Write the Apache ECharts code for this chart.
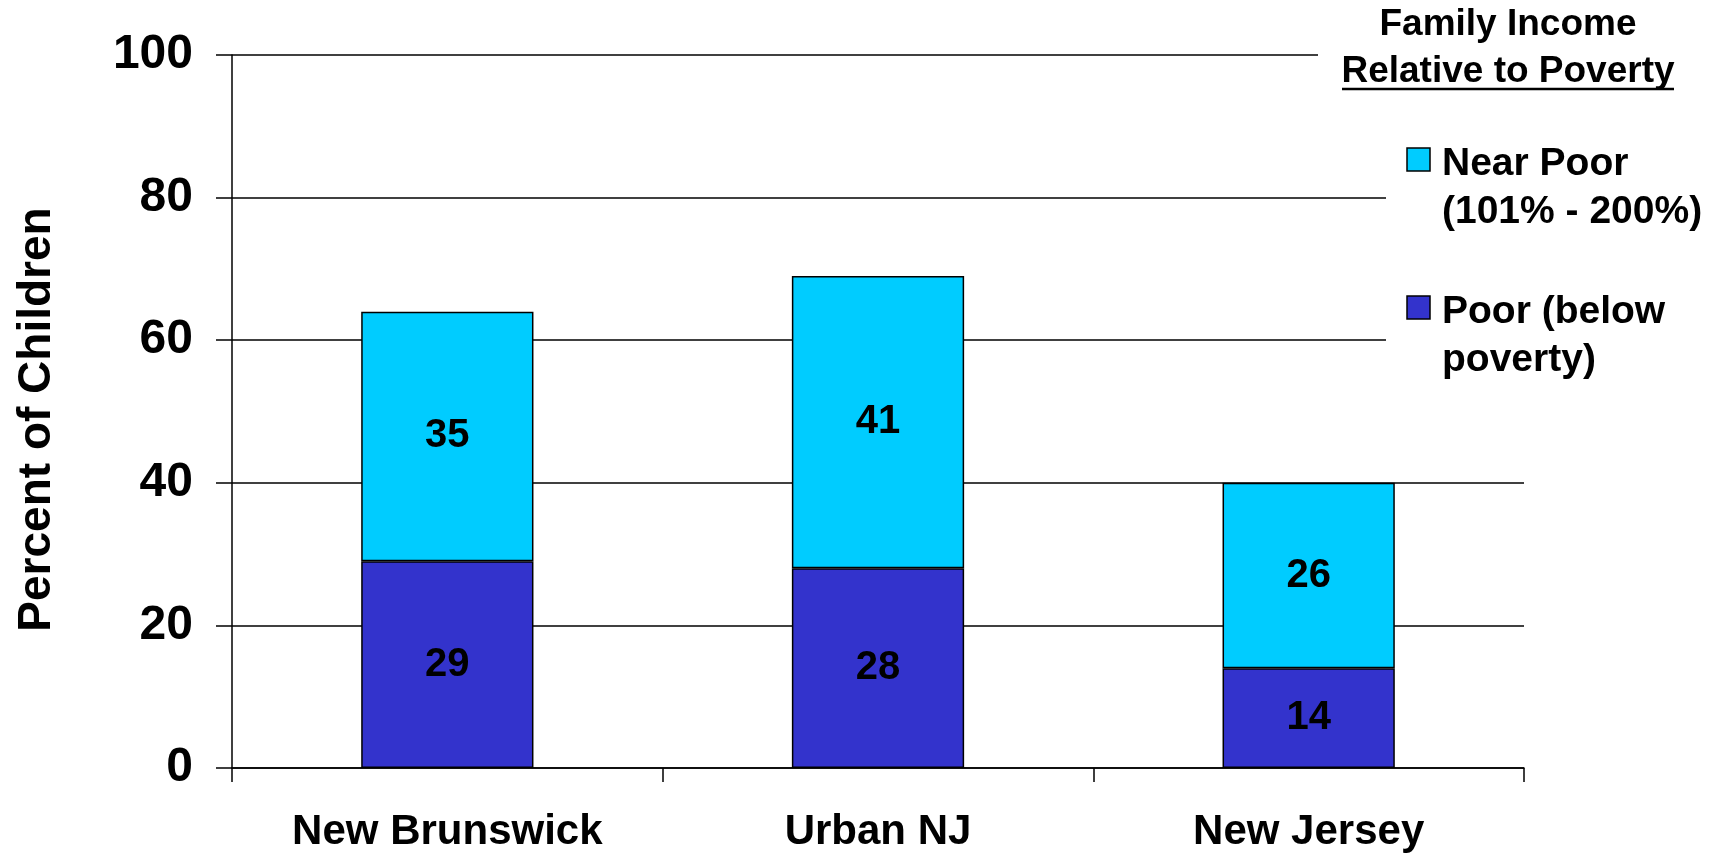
<!DOCTYPE html>
<html>
<head>
<meta charset="utf-8">
<script src="https://cdn.jsdelivr.net/npm/echarts@6/dist/echarts.min.js"></script>
<style>
html,body{margin:0;padding:0;background:#fff;}
#chart{width:1719px;height:856px;}
</style>
</head>
<body>
<div id="chart"></div>
<script>
const categories = ['New Brunswick', 'Urban NJ', 'New Jersey'];
const poorValues = [29, 28, 14];
const nearPoorValues = [35, 41, 26];
const yTicks = [0, 20, 40, 60, 80, 100];
const seriesNames = ['Poor (below\npoverty)', 'Near Poor\n(101% - 200%)'];
const legendTitle = ['Family Income', 'Relative to Poverty'];
const colors = ['#3333CC', '#00CCFF'];

const FONT = '"Liberation Sans", Arial, Helvetica, sans-serif';
const chart = echarts.init(document.getElementById('chart'), null, {renderer: 'canvas'});

const labelStyle = {
  show: true, position: 'inside', color: '#000', fontFamily: FONT,
  fontWeight: 'bold', fontSize: 40
};

// legend drawn in top-to-bottom order: Near Poor, then Poor
const legendOrder = [1, 0];
const legendGraphics = [
  {type: 'rect', left: 1318, top: 0, shape: {width: 401, height: 100}, style: {fill: '#fff'}, z: 10},
  {type: 'rect', left: 1386, top: 100, shape: {width: 333, height: 300}, style: {fill: '#fff'}, z: 10},
  {type: 'text', style: {text: legendTitle[0], x: 1508, y: 25, textAlign: 'center', textVerticalAlign: 'middle',
    font: 'bold 37px ' + FONT, fill: '#000'}, z: 11},
  {type: 'text', style: {text: legendTitle[1], x: 1508, y: 72, textAlign: 'center', textVerticalAlign: 'middle',
    font: 'bold 37px ' + FONT, fill: '#000'}, z: 11},
  {type: 'line', shape: {x1: 1342, y1: 89, x2: 1674, y2: 89}, style: {stroke: '#000', lineWidth: 2.5}, z: 11}
];
legendOrder.forEach((si, k) => {
  const top = 148 + k * 148;
  legendGraphics.push({type: 'rect', shape: {x: 1407, y: top, width: 23, height: 23},
    style: {fill: colors[si], stroke: '#000', lineWidth: 1.5}, z: 11});
  legendGraphics.push({type: 'text', style: {text: seriesNames[si], x: 1442, y: top - 8,
    textAlign: 'left', textVerticalAlign: 'top', font: 'bold 39px ' + FONT, lineHeight: 48, fill: '#000'}, z: 11});
});

const option = {
  animation: false,
  backgroundColor: '#fff',
  grid: {left: 232, right: 195, top: 55, bottom: 88, containLabel: false},
  xAxis: {
    type: 'category', data: categories,
    axisLine: {show: true, lineStyle: {color: '#000', width: 1.5}},
    axisTick: {show: true, length: 14, inside: false, alignWithLabel: false, lineStyle: {color: '#000', width: 1.5}},
    axisLabel: {color: '#000', fontFamily: FONT, fontWeight: 'bold', fontSize: 42, margin: 43},
    splitLine: {show: false}
  },
  yAxis: {
    type: 'value', min: yTicks[0], max: yTicks[yTicks.length - 1], interval: 20,
    name: 'Percent of Children', nameLocation: 'middle', nameGap: 172, nameRotate: 90,
    nameTextStyle: {color: '#000', fontFamily: FONT, fontWeight: 'bold', fontSize: 46, padding: [0, 16, 0, 0]},
    axisLine: {show: true, lineStyle: {color: '#000', width: 1.5}},
    axisTick: {show: true, length: 16, inside: false, lineStyle: {color: '#000', width: 1.5}},
    axisLabel: {color: '#000', fontFamily: FONT, fontWeight: 'bold', fontSize: 48, margin: 39},
    splitLine: {show: true, lineStyle: {color: '#000', width: 1.5}}
  },
  series: [
    {name: seriesNames[0], type: 'bar', stack: 'total', data: poorValues, barWidth: '40%',
     itemStyle: {color: colors[0], borderColor: '#000', borderWidth: 1.5}, label: labelStyle},
    {name: seriesNames[1], type: 'bar', stack: 'total', data: nearPoorValues, barWidth: '40%',
     itemStyle: {color: colors[1], borderColor: '#000', borderWidth: 1.5}, label: labelStyle}
  ],
  graphic: legendGraphics
};
chart.setOption(option);
</script>
</body>
</html>
